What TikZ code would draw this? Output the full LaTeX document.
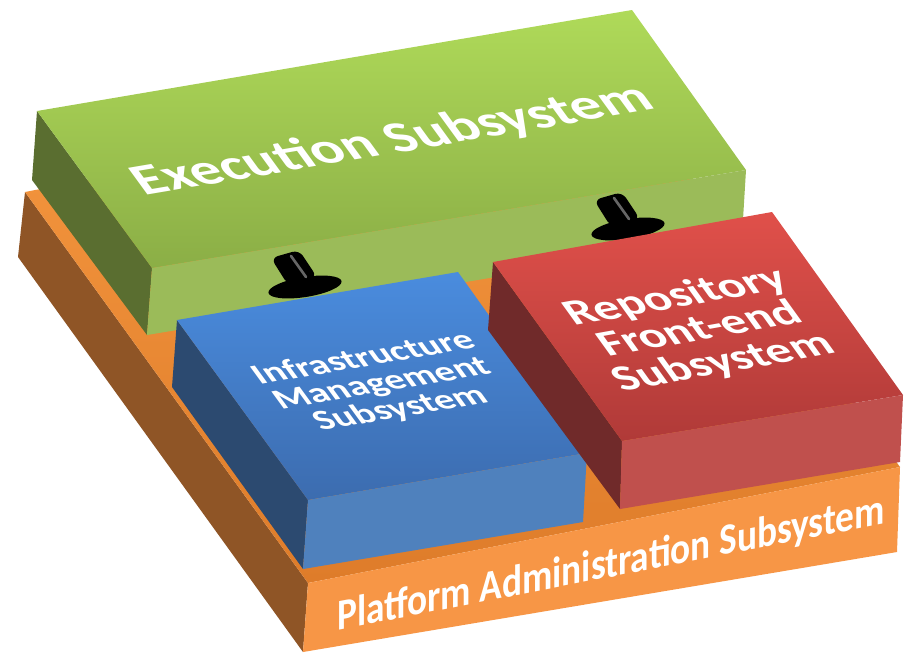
\documentclass[tikz,border=0pt]{standalone}
\usepackage{fontspec}
\setmainfont{Carlito}

\definecolor{orangetop}{RGB}{246,152,64}
\definecolor{orangetopfront}{RGB}{222,124,42}
\definecolor{orangefront}{RGB}{247,150,70}
\definecolor{orangeside}{RGB}{143,85,38}
\definecolor{greentop}{RGB}{175,218,89}
\definecolor{greentopfront}{RGB}{139,174,70}
\definecolor{greenfront}{RGB}{155,187,89}
\definecolor{greenside}{RGB}{90,110,48}
\definecolor{bluetop}{RGB}{74,140,222}
\definecolor{bluetopfront}{RGB}{60,108,175}
\definecolor{bluefront}{RGB}{79,129,189}
\definecolor{blueside}{RGB}{44,74,112}
\definecolor{redtop}{RGB}{224,80,74}
\definecolor{redtopfront}{RGB}{176,58,56}
\definecolor{redfront}{RGB}{192,80,77}
\definecolor{redside}{RGB}{112,42,42}

\begin{document}
\begin{tikzpicture}[x=0.02cm, y=-0.02cm,
  boxlabel/.style={text=white, align=center, inner sep=0pt}]

\useasboundingbox (0,0) rectangle (912,653);

%------------------ PLATFORM BASE ------------------%
\fill[orangeside] (25,192) -- (308,583) -- (303,652) -- (18,257) -- cycle;
\shade[top color=orangetop, bottom color=orangetopfront]
  (25,192) -- (617,76) -- (900,467) -- (308,583) -- cycle;
\fill[orangefront] (308,583) -- (900,467) -- (897,552) -- (303,652) -- cycle;
\node[boxlabel, font=\bfseries\fontsize{25}{30}\selectfont, cm={0.85,0.166,0,1,(0,0)}]
  (platform) at (611,565) {Platform Administration Subsystem};

%------------------ EXECUTION BOX ------------------%
\fill[greenside] (37,111) -- (152,268) -- (147,335) -- (32,180) -- cycle;
\shade[top color=greentop, bottom color=greentopfront]
  (37,111) -- (632,10) -- (746,170) -- (152,268) -- cycle;
\fill[greenfront] (152,268) -- (746,170) -- (742,236) -- (147,335) -- cycle;
\node[boxlabel, font=\bfseries\fontsize{34}{40}\selectfont, cm={0.986,0.167,-0.50,0.686,(0,0)}]
  (exec) at (393,141) {Execution Subsystem};

%------------------ ARROWS ------------------%
\foreach \sx/\sy in {0/0, 323/-58}{
  \begin{scope}[shift={(\sx,\sy)}]
    \fill[black, rotate around={9:(305,287)}]
      (305,287) ellipse [x radius=37, y radius=10];
    \fill[black, rounded corners=4]
      (271,258) -- (299,250) -- (317,277) -- (288,285) -- cycle;
    \draw[black!60, line width=1.5pt, line cap=round] (291,256) -- (306,277);
  \end{scope}
}

%------------------ INFRASTRUCTURE BOX ------------------%
\fill[blueside] (177,320) -- (308,500) -- (303,569) -- (172,387) -- cycle;
\shade[top color=bluetop, bottom color=bluetopfront]
  (177,320) -- (458,272) -- (587,453) -- (308,500) -- cycle;
\fill[bluefront] (308,500) -- (587,453) -- (583,522) -- (303,569) -- cycle;
\node[boxlabel, font=\bfseries\fontsize{22}{21}\selectfont, cm={0.986,0.168,-0.50,0.685,(0,0)}]
  (infra) at (382,384) {Infrastructure\\Management\\Subsystem};

%------------------ REPOSITORY BOX ------------------%
\fill[redside] (493,262) -- (622,441) -- (620,509) -- (488,330) -- cycle;
\shade[top color=redtop, bottom color=redtopfront]
  (493,262) -- (772,212) -- (903,395) -- (622,441) -- cycle;
\fill[redfront] (622,441) -- (903,395) -- (900,462) -- (620,509) -- cycle;
\node[boxlabel, font=\bfseries\fontsize{28}{27}\selectfont, cm={0.984,0.176,-0.497,0.689,(0,0)}]
  (repo) at (700,330) {Repository\\Front-end\\Subsystem};

\end{tikzpicture}
\end{document}
